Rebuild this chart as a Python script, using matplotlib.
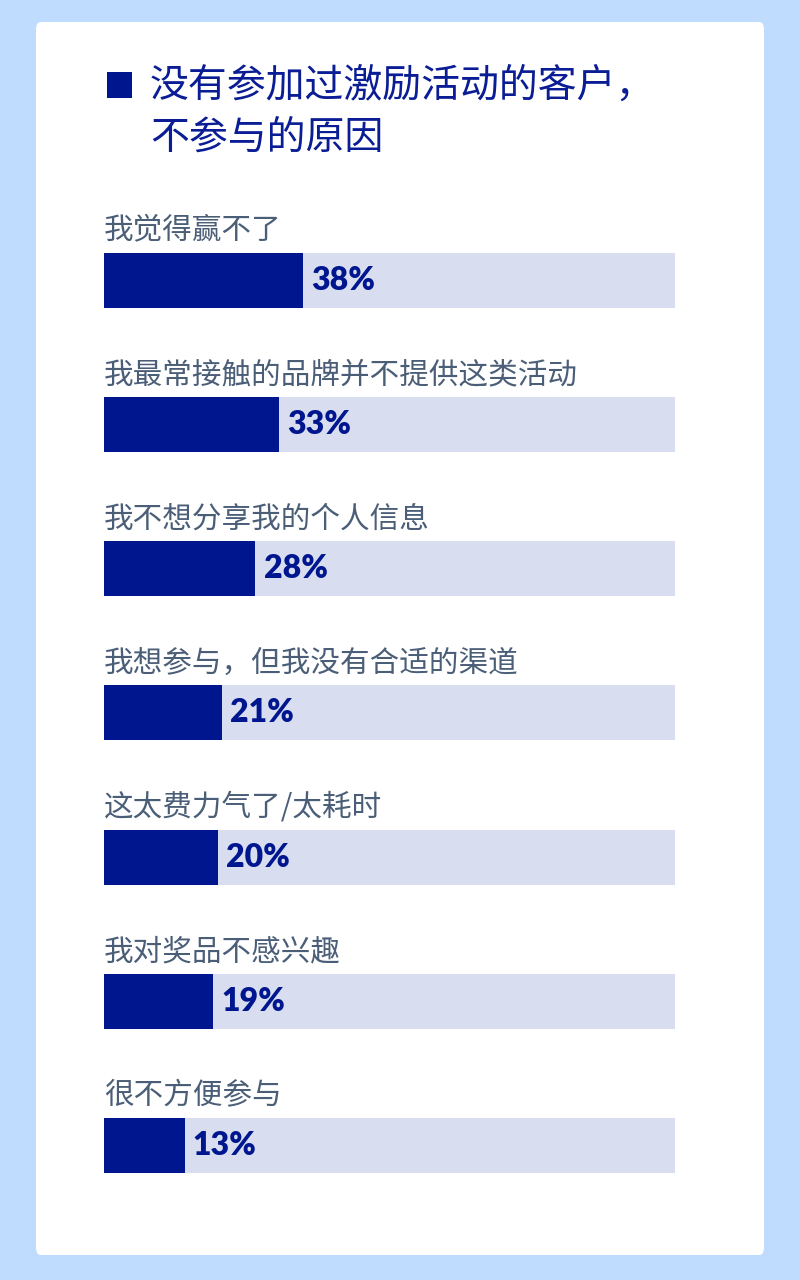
import matplotlib.pyplot as plt
from matplotlib.patches import FancyBboxPatch, Rectangle

# data
reasons = ['我觉得赢不了', '我最常接触的品牌并不提供这类活动', '我不想分享我的个人信息',
           '我想参与，但我没有合适的渠道', '这太费力气了/太耗时', '我对奖品不感兴趣', '很不方便参与']
shares = [38, 33, 28, 21, 20, 19, 13]
title_lines = ['没有参加过激励活动的客户，', '不参与的原因']

navy = '#00168F'
track = '#D8DEF0'
label_col = '#4B5E78'
cjk = ['Noto Sans CJK SC', 'DejaVu Sans']

W, H = 800, 1280
fig = plt.figure(figsize=(W / 100, H / 100), dpi=100, facecolor='#BFDBFE')

def fx(px):
    return px / W

def fy(py):
    return 1 - py / H

# white card behind everything
card = FancyBboxPatch((fx(36), fy(1255)), fx(728), (1255 - 22) / H,
                      boxstyle='round,pad=0,rounding_size=0.006',
                      transform=fig.transFigure, facecolor='white', edgecolor='none',
                      zorder=-10)
fig.patches.append(card)

# title
fig.patches.append(Rectangle((fx(107), fy(98)), fx(25), 26 / H, transform=fig.transFigure,
                             facecolor=navy, edgecolor='none'))
fig.text(fx(150), fy(86), title_lines[0], family=cjk, fontsize=28, color='#0A1D95', va='center')
fig.text(fx(150), fy(138), title_lines[1], family=cjk, fontsize=28, color='#0A1D95', va='center')

# bars
row = 144.3
top = 280 - row / 2
ax = fig.add_axes([fx(104), fy(top + row * 7), fx(571), row * 7 / H])
x0, x1 = -4.1, 116.9
ax.set_xlim(x0, x1)
ax.set_ylim(6.5, -0.5)
ax.axis('off')

bh = 55 / row
ys = list(range(len(reasons)))
ax.barh(ys, [x1 - x0] * len(ys), height=bh, left=x0, color=track, edgecolor='none')
ax.barh(ys, [v - x0 for v in shares], height=bh, left=x0, color=navy, edgecolor='none')

for y, name, v in zip(ys, reasons, shares):
    ax.text(x0, y - 0.345, name, family=cjk, fontsize=21.3, color=label_col,
            va='center', ha='left')
    ax.text(v + 1.7, y, f'{v}%', family=['Lato', 'DejaVu Sans'], fontweight='heavy',
            fontsize=23, color=navy, va='center', ha='left')

fig.savefig('out.png', dpi=100, facecolor=fig.get_facecolor())
